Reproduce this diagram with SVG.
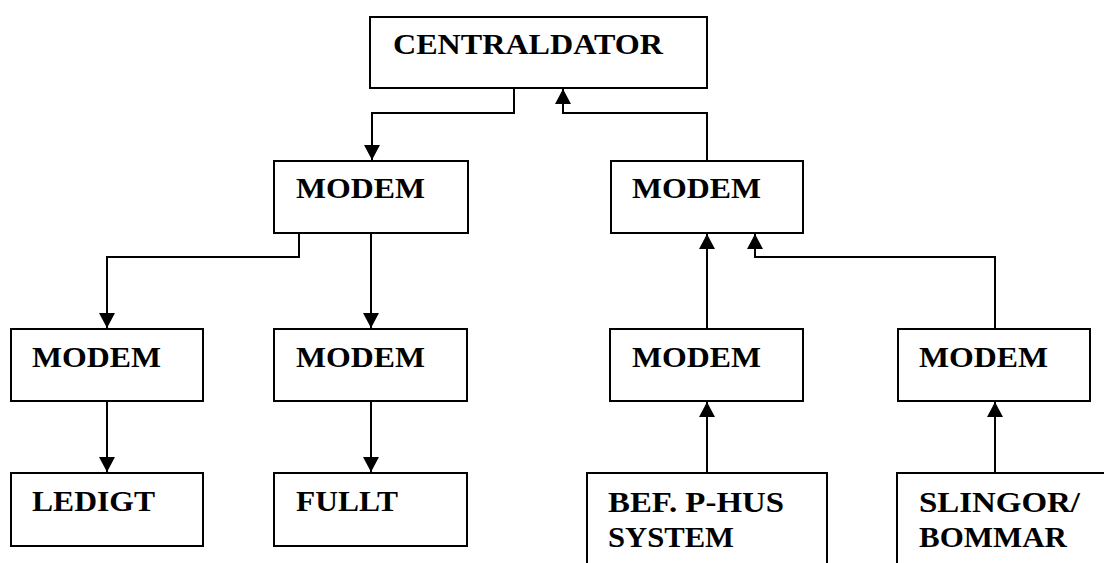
<svg xmlns="http://www.w3.org/2000/svg" width="1104" height="563" viewBox="0 0 1104 563">
<style>
.box{fill:#fff;stroke:#000;stroke-width:2}
.lbl{font-family:"Liberation Serif","Times New Roman",serif;font-weight:bold;font-size:30px;fill:#000}
.con{fill:none;stroke:#000;stroke-width:2}
</style>
<defs>
<marker id="arr" markerUnits="userSpaceOnUse" markerWidth="16" markerHeight="16" viewBox="0 0 16 16" refX="15" refY="8" orient="auto">
<path d="M0,0 L15,8 L0,16 Z" fill="#000"/>
</marker>
</defs>
<rect width="1104" height="563" fill="#fff"/>
<g id="connectors">
<path class="con" d="M514,88 V113 H372 V160" marker-end="url(#arr)"/>
<path class="con" d="M707,161 V113 H563 V89" marker-end="url(#arr)"/>
<path class="con" d="M299,233 V257 H107 V328" marker-end="url(#arr)"/>
<path class="con" d="M371,233 V328" marker-end="url(#arr)"/>
<path class="con" d="M107,401 V472" marker-end="url(#arr)"/>
<path class="con" d="M371,401 V472" marker-end="url(#arr)"/>
<path class="con" d="M707,329 V234" marker-end="url(#arr)"/>
<path class="con" d="M995,329 V257 H755 V234" marker-end="url(#arr)"/>
<path class="con" d="M707,473 V402" marker-end="url(#arr)"/>
<path class="con" d="M995,473 V402" marker-end="url(#arr)"/>
</g>
<g id="centraldator"><rect class="box" x="370" y="17" width="337" height="71"/><text class="lbl" x="393" y="54" textLength="270" lengthAdjust="spacingAndGlyphs">CENTRALDATOR</text></g>
<g id="modem-left"><rect class="box" x="274" y="161" width="194" height="72"/><text class="lbl" x="296" y="198" textLength="129" lengthAdjust="spacingAndGlyphs">MODEM</text></g>
<g id="modem-right"><rect class="box" x="611" y="161" width="192" height="72"/><text class="lbl" x="632" y="198" textLength="129" lengthAdjust="spacingAndGlyphs">MODEM</text></g>
<g id="modem-ledigt"><rect class="box" x="11" y="329" width="192" height="72"/><text class="lbl" x="32" y="367" textLength="129" lengthAdjust="spacingAndGlyphs">MODEM</text></g>
<g id="modem-fullt"><rect class="box" x="274" y="329" width="193" height="72"/><text class="lbl" x="296" y="367" textLength="129" lengthAdjust="spacingAndGlyphs">MODEM</text></g>
<g id="modem-phus"><rect class="box" x="610" y="329" width="193" height="72"/><text class="lbl" x="632" y="367" textLength="129" lengthAdjust="spacingAndGlyphs">MODEM</text></g>
<g id="modem-slingor"><rect class="box" x="898" y="329" width="192" height="72"/><text class="lbl" x="919" y="367" textLength="129" lengthAdjust="spacingAndGlyphs">MODEM</text></g>
<g id="ledigt"><rect class="box" x="11" y="473" width="192" height="73"/><text class="lbl" x="32" y="511" textLength="123" lengthAdjust="spacingAndGlyphs">LEDIGT</text></g>
<g id="fullt"><rect class="box" x="274" y="473" width="193" height="73"/><text class="lbl" x="296" y="511" textLength="102" lengthAdjust="spacingAndGlyphs">FULLT</text></g>
<g id="phus"><rect class="box" x="587" y="473" width="240" height="110"/><text class="lbl" x="608" y="512" textLength="176" lengthAdjust="spacingAndGlyphs">BEF. P-HUS</text><text class="lbl" x="608" y="547" textLength="126" lengthAdjust="spacingAndGlyphs">SYSTEM</text></g>
<g id="slingor"><rect class="box" x="897" y="473" width="240" height="110"/><text class="lbl" x="919" y="512" textLength="161" lengthAdjust="spacingAndGlyphs">SLINGOR/</text><text class="lbl" x="919" y="547" textLength="148" lengthAdjust="spacingAndGlyphs">BOMMAR</text></g>
</svg>
